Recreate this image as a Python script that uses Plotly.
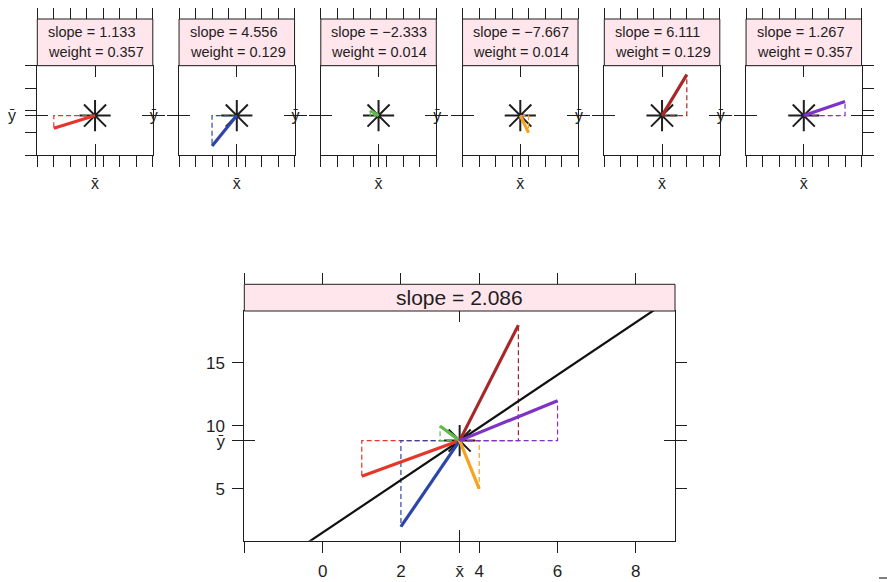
import numpy as np
import plotly.graph_objects as go

# ---------------- data ----------------
x_vals = [1, 2, 3, 4, 5, 6]
y_vals = [6, 2, 10, 5, 18, 12]
seg_colors = ["#E4362A", "#2C46A8", "#5EBB48", "#F6A21D", "#A8282A", "#7E33C6"]

small_xticks = [0, 1, 2, 3, 4, 5, 6, 7]
small_yticks = [0, 5, 10, 15, 20]
small_xrange = [0, 7]
small_yrange = [0, 20]

main_xticks = [-2, 0, 2, 4, 6, 8]
main_xticklabels = ["", "0", "2", "4", "6", "8"]
main_yticks = [5, 10, 15]
main_yticklabels = ["5", "10", "15"]
main_xrange = [-2, 9]
main_yrange = [0.89, 19.12]

XBAR_LABEL = "x\u0304"
YBAR_LABEL = "\u0233"

# ---------------- derived ----------------
W, H = 887, 582
INK = "#1e1e1e"
STRIP = "#FFE5EC"
FONT = "Liberation Sans, Arial, Helvetica, sans-serif"

X = np.array(x_vals, float)
Y = np.array(y_vals, float)
xbar, ybar = X.mean(), Y.mean()
dx, dy = X - xbar, Y - ybar
slopes = dy / dx
weights = dx ** 2 / np.sum(dx ** 2)
b_all = float(np.sum(weights * slopes))


def fmt(v):
    return f"{v:.3f}".replace("-", "\u2212")


fig = go.Figure()
layout = {}
counts = {"x": 0, "y": 0}
shapes = []
annotations = []


def new_ax(letter):
    counts[letter] += 1
    return counts[letter]


def aname(letter, n):
    return f"{letter}axis" if n == 1 else f"{letter}axis{n}"


def aref(letter, n):
    return letter if n == 1 else f"{letter}{n}"


def dummy(xr, yr):
    fig.add_trace(go.Scatter(x=[None], y=[None], xaxis=xr, yaxis=yr, mode="lines",
                             showlegend=False, hoverinfo="skip"))


def panel(left, right, top, bottom, strip_top, xr, yr, xt, xtt, yt, ytt,
          top_xticks, reg_yticks=None, reg_side=None, label_size=16, ylab_standoff=0,
          xlab_standoff=0):
    xa = new_ax("x")
    ya = new_ax("y")
    xd = [left / W, right / W]
    yd = [1 - bottom / H, 1 - top / H]
    common = dict(showgrid=False, zeroline=False, ticklen=11, tickwidth=1,
                  tickcolor=INK, linecolor=INK, linewidth=1,
                  tickfont=dict(size=label_size, color=INK, family=FONT))
    layout[aname("x", xa)] = dict(domain=xd, range=xr, anchor=aref("y", ya), tickmode="array",
                                  tickvals=xt, ticktext=xtt, ticks="outside", showline=True,
                                  mirror=True, ticklabelstandoff=xlab_standoff, **common)
    layout[aname("y", ya)] = dict(domain=yd, range=yr, anchor=aref("x", xa), tickmode="array",
                                  tickvals=yt, ticktext=ytt, ticks="outside", showline=True,
                                  mirror="ticks", ticklabelstandoff=ylab_standoff, **common)
    # inside tick at x-bar (bottom and top)
    xb = new_ax("x")
    layout[aname("x", xb)] = dict(range=xr, anchor=aref("y", ya), overlaying=aref("x", xa),
                                  tickmode="array", tickvals=[xbar], ticks="inside",
                                  mirror="ticks", showticklabels=False, showline=False, **common)
    dummy(aref("x", xb), aref("y", ya))
    # ticks above the strip
    xc = new_ax("x")
    layout[aname("x", xc)] = dict(range=xr, anchor="free", position=1 - strip_top / H, side="top",
                                  overlaying=aref("x", xa), tickmode="array", tickvals=top_xticks,
                                  ticks="outside", showticklabels=False, showline=False, **common)
    dummy(aref("x", xc), aref("y", ya))
    # inside tick at y-bar (left and right)
    yb = new_ax("y")
    layout[aname("y", yb)] = dict(range=yr, anchor=aref("x", xa), overlaying=aref("y", ya),
                                  tickmode="array", tickvals=[ybar], ticks="inside",
                                  mirror="ticks", showticklabels=False, showline=False, **common)
    dummy(aref("x", xa), aref("y", yb))
    if reg_yticks is not None:
        yc = new_ax("y")
        layout[aname("y", yc)] = dict(range=yr, anchor=aref("x", xa), overlaying=aref("y", ya),
                                      side=reg_side, tickmode="array", tickvals=reg_yticks,
                                      ticks="outside", showticklabels=False, showline=False,
                                      **common)
        dummy(aref("x", xa), aref("y", yc))
    # strip
    shapes.append(dict(type="rect", xref="paper", yref="paper", x0=left / W, x1=right / W,
                       y0=1 - top / H, y1=1 - strip_top / H, fillcolor=STRIP,
                       line=dict(color=INK, width=1), layer="above"))
    return aref("x", xa), aref("y", ya)


def star(xr, yr):
    fig.add_trace(go.Scatter(x=[xbar], y=[ybar], xaxis=xr, yaxis=yr, mode="markers",
                             marker=dict(symbol="asterisk-open", size=26, color=INK,
                                         line=dict(width=2, color=INK)),
                             showlegend=False, hoverinfo="skip"))


def legs(k, xr, yr):
    fig.add_trace(go.Scatter(x=[xbar, X[k], X[k]], y=[ybar, ybar, Y[k]], xaxis=xr, yaxis=yr,
                             mode="lines", line=dict(color=seg_colors[k], width=1.2,
                                                     dash="5px,3px"),
                             showlegend=False, hoverinfo="skip"))


def seg(k, xr, yr):
    fig.add_trace(go.Scatter(x=[X[k], xbar], y=[Y[k], ybar], xaxis=xr, yaxis=yr,
                             mode="lines", line=dict(color=seg_colors[k], width=3.2),
                             showlegend=False, hoverinfo="skip"))


# ---------------- small panels ----------------
for k in range(len(x_vals)):
    left = 37.3 + 141.75 * k
    right = left + 115.5
    reg = None
    side = None
    if k == 0:
        reg, side = small_yticks, "left"
    elif k == len(x_vals) - 1:
        reg, side = small_yticks, "right"
    xr, yr = panel(left, right, 65.7, 155.0, 19.0, small_xrange, small_yrange,
                   small_xticks + [xbar], [""] * len(small_xticks) + [XBAR_LABEL],
                   [ybar], [YBAR_LABEL], small_xticks, reg, side, label_size=16,
                   ylab_standoff=6, xlab_standoff=3)
    star(xr, yr)
    legs(k, xr, yr)
    seg(k, xr, yr)
    annotations.append(dict(xref="paper", yref="paper", x=(left + 8.5) / W, y=1 - 31.5 / H,
                            xanchor="left", yanchor="middle", showarrow=False,
                            text=f"slope = {fmt(slopes[k])}",
                            font=dict(size=14.5, color=INK, family=FONT)))
    annotations.append(dict(xref="paper", yref="paper", x=(left + 8.5) / W, y=1 - 52.0 / H,
                            xanchor="left", yanchor="middle", showarrow=False,
                            text=f"weight = {fmt(weights[k])}",
                            font=dict(size=14.5, color=INK, family=FONT)))

# ---------------- main panel ----------------
m_left, m_right, m_top, m_bottom, m_strip = 244.3, 675.0, 311.0, 540.7, 284.3
mx, my = panel(m_left, m_right, m_top, m_bottom, m_strip, main_xrange, main_yrange,
               main_xticks + [xbar], main_xticklabels + [XBAR_LABEL],
               main_yticks + [ybar], main_yticklabels + [YBAR_LABEL],
               main_xticks, label_size=17, ylab_standoff=4, xlab_standoff=4)
star(mx, my)
for k in range(len(x_vals)):
    legs(k, mx, my)
line_x = np.array(main_xrange, float)
line_y = ybar + b_all * (line_x - xbar)
fig.add_trace(go.Scatter(x=line_x, y=line_y, xaxis=mx, yaxis=my, mode="lines",
                         line=dict(color="#111111", width=2.2), showlegend=False,
                         hoverinfo="skip"))
for k in range(len(x_vals)):
    seg(k, mx, my)
annotations.append(dict(xref="paper", yref="paper", x=(m_left + m_right) / 2 / W,
                        y=1 - (m_strip + m_top) / 2 / H, xanchor="center", yanchor="middle",
                        showarrow=False, text=f"slope = {fmt(b_all)}",
                        font=dict(size=21, color=INK, family=FONT)))

# small page mark at the bottom-right corner
shapes.append(dict(type="line", xref="paper", yref="paper", x0=879 / W, x1=1.0,
                   y0=1 - 578 / H, y1=1 - 578 / H, line=dict(color="#555555", width=1.5)))

fig.update_layout(width=W, height=H, margin=dict(l=0, r=0, t=0, b=0),
                  paper_bgcolor="white", plot_bgcolor="rgba(0,0,0,0)",
                  showlegend=False, shapes=shapes, annotations=annotations,
                  font=dict(family=FONT, color=INK), **layout)

fig.write_html("out.html", config={"displayModeBar": False},
               post_script="document.body.style.margin='0';document.body.style.padding='0';")
